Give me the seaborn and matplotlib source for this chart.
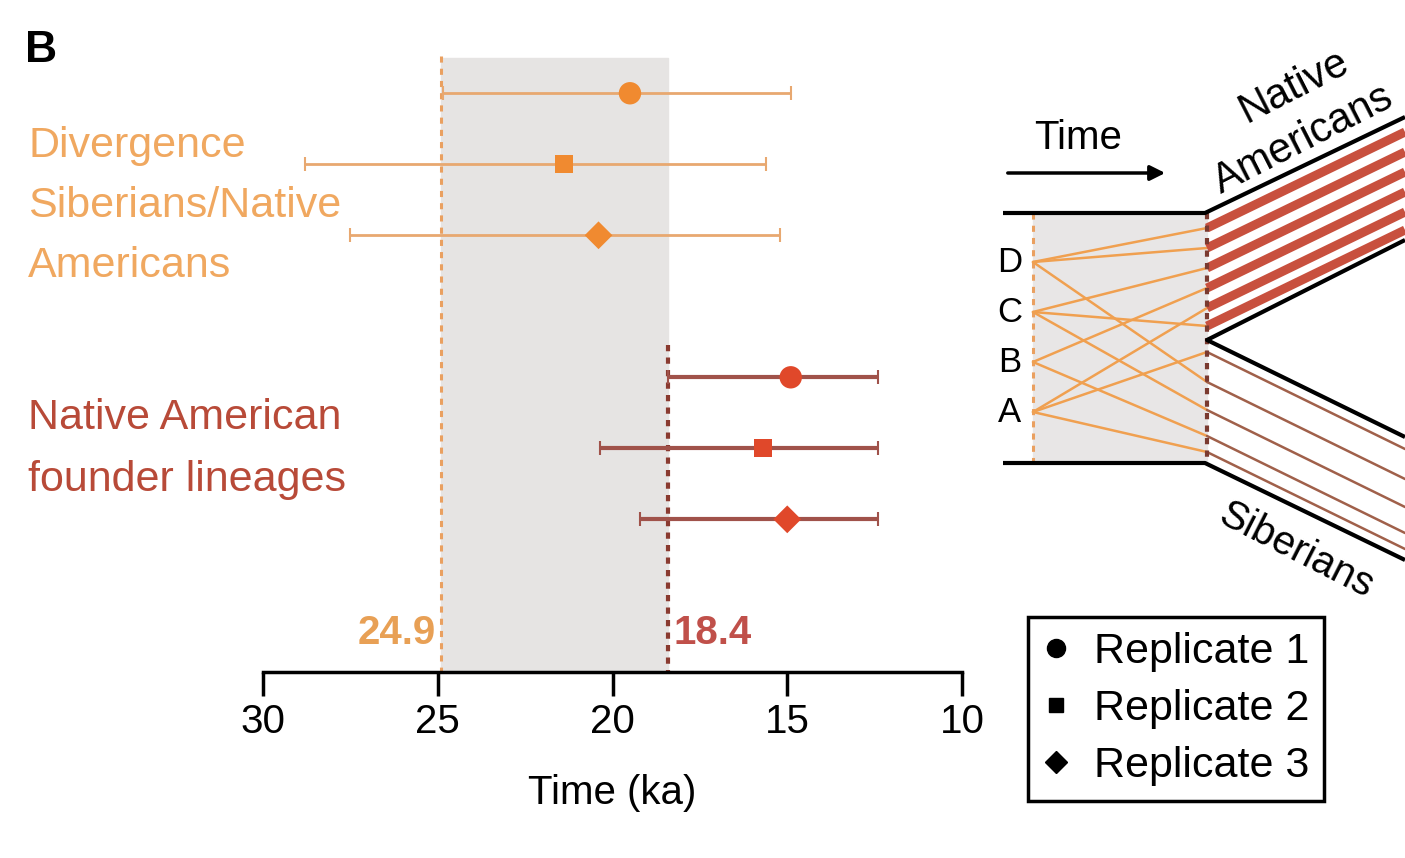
import numpy as np
import pandas as pd
import matplotlib
matplotlib.use("Agg")
import matplotlib.pyplot as plt
from matplotlib.lines import Line2D
import seaborn as sns

# Estimaciones (ka)
groups = ["Divergence"] * 3 + ["Founder"] * 3
replicates = ["Replicate 1", "Replicate 2", "Replicate 3"] * 2
estimate = [19.5, 21.4, 20.4, 14.9, 15.7, 15.0]
older = [24.85, 28.8, 27.5, 18.4, 20.35, 19.2]
younger = [14.9, 15.6, 15.2, 12.4, 12.4, 12.4]
row = [0, 1, 2, 4, 5, 6]

divergence_bound = 24.9
founder_bound = 18.4
xticks = [30, 25, 20, 15, 10]

# Esquema de la derecha (coordenadas del dibujo)
letters = ["D", "C", "B", "A"]
letter_y = [262, 312, 362, 412]
na_start = [228, 248, 268, 288, 308, 326]
sib_start = [352, 382, 410, 436, 452]
na_source = ["D", "D", "C", "B", "A", "C"]
sib_source = ["A", "D", "C", "B", "A"]

df = pd.DataFrame({"group": groups, "replicate": replicates, "estimate": estimate,
                   "older": older, "younger": younger, "row": row})

sns.set_style("white")
plt.rcParams['font.family'] = ['Liberation Sans', 'DejaVu Sans']
plt.rcParams['text.color'] = 'black'
plt.rcParams['axes.labelcolor'] = 'black'
plt.rcParams['xtick.color'] = 'black'

colors = {"Divergence": "#f08a30", "Founder": "#e0482a"}
bar_colors = {"Divergence": "#e8a870", "Founder": "#a0524a"}
bar_width = {"Divergence": 2.0, "Founder": 3.0}
markers = {"Replicate 1": "o", "Replicate 2": "s", "Replicate 3": "D"}
msize = {"Replicate 1": 260, "Replicate 2": 170, "Replicate 3": 200}

fig = plt.figure(figsize=(14.05, 8.58), dpi=100)
ax = fig.add_axes([263 / 1405, 1 - 672 / 858, 699 / 1405, 632 / 858])

ax.set_xlim(30, 10)
ax.set_ylim(8.15, -0.75)

# Zona sombreada entre los dos limites
ax.fill_betweenx([-0.49, 8.15], divergence_bound, founder_bound, color="#e6e4e3", zorder=0)
ax.plot([divergence_bound] * 2, [-0.53, 8.15], color="#eaa060", lw=2.2,
        ls=(0, (2, 2)), zorder=1)
ax.plot([founder_bound] * 2, [3.55, 8.15], color="#8a3a30", lw=3,
        ls=(0, (1.5, 1.5)), zorder=1)

# Barras de error
for _, r in df.iterrows():
    ax.hlines(r["row"], r["older"], r["younger"], color=bar_colors[r["group"]],
              lw=bar_width[r["group"]], zorder=2)
    ax.plot([r["older"], r["younger"]], [r["row"], r["row"]], ls="none", marker="|",
            ms=10, mew=1.5, color=bar_colors[r["group"]], zorder=2)

# Puntos
for rep in markers:
    sub = df[df["replicate"] == rep]
    sns.scatterplot(data=sub, x="estimate", y="row", hue="group", palette=colors,
                    marker=markers[rep], s=msize[rep], edgecolor="none",
                    legend=False, ax=ax, zorder=3)

ax.text(divergence_bound + 0.15, 7.6, "24.9", color="#e8a055", fontsize=29,
        fontweight="bold", ha="right", va="center")
ax.text(founder_bound - 0.15, 7.6, "18.4", color="#c0504a", fontsize=29,
        fontweight="bold", ha="left", va="center")

for s in ["top", "right", "left"]:
    ax.spines[s].set_visible(False)
ax.spines["bottom"].set_linewidth(2.5)
ax.spines["bottom"].set_color("black")
ax.set_xticks(xticks)
ax.set_xticklabels([str(t) for t in xticks])
ax.tick_params(axis="x", bottom=True, direction="out", length=17, width=2.5,
               labelsize=29, pad=5, color="black")
ax.set_yticks([])
ax.set_xlabel("Time (ka)", fontsize=29, labelpad=24)
ax.set_ylabel("")
ax.patch.set_alpha(0)

fig.text(25 / 1405, 1 - 50 / 858, "B", fontsize=32, fontweight="bold", va="center")
fig.text(28 / 1405, 1 - 206 / 858, "Divergence\nSiberians/Native\nAmericans",
         color="#f0a860", fontsize=31, va="center", linespacing=1.65)
fig.text(28 / 1405, 1 - 449 / 858, "Native American\nfounder lineages",
         color="#b84a38", fontsize=31, va="center", linespacing=1.68)

# Esquema
ax2 = fig.add_axes([990 / 1405, 1 - 610 / 858, 415 / 1405, 560 / 858])
ax2.set_xlim(990, 1405)
ax2.set_ylim(610, 50)
ax2.axis("off")

xl, xr, xe = 1033, 1207, 1405
ax2.fill_between([xl, xr], 213, 463, color="#e8e6e6", zorder=0)
ax2.plot([xl, xl], [213, 463], color="#eaa060", lw=2.2, ls=(0, (2, 2)), zorder=1)
ax2.plot([xr, xr], [213, 463], color="#7a3a30", lw=3, ls=(0, (1.5, 1.5)), zorder=3)

src = dict(zip(letters, letter_y))
for y, s in zip(na_start + sib_start, na_source + sib_source):
    ax2.plot([xl, xr], [src[s], y], color="#f0a050", lw=1.8, zorder=2)
for y in na_start:
    ax2.plot([xr, xe], [y, y - 96], color="#c8503e", lw=6.5, zorder=2, solid_capstyle="butt")
for y in sib_start:
    ax2.plot([xr, xe], [y, y + 97], color="#a0604a", lw=1.8, zorder=2)

k = dict(color="black", lw=3, solid_capstyle="butt", zorder=4)
ax2.plot([1003, 1205, xe], [213, 213, 117], **k)
ax2.plot([xe, 1207, xe], [240, 340, 437], **k)
ax2.plot([1003, 1205, xe], [463, 463, 560], **k)

for l, y in zip(letters, letter_y):
    ax2.text(1010, y, l, fontsize=25, ha="center", va="center")

ax2.annotate("", xy=(1168, 173), xytext=(1005, 173),
             arrowprops=dict(arrowstyle="-|>,head_length=0.9,head_width=0.45",
                             color="black", lw=2.5))
ax2.text(1078, 138, "Time", fontsize=29, ha="center", va="center")
ax2.text(1294, 86, "Native", fontsize=30, ha="center", va="center", rotation=27)
ax2.text(1303, 140, "Americans", fontsize=30, ha="center", va="center", rotation=27)
ax2.text(1296, 550, "Siberians", fontsize=29, ha="center", va="center", rotation=-27)

handles = [Line2D([], [], ls="none", marker=markers[r], color="black",
                  ms={"Replicate 1": 13, "Replicate 2": 10, "Replicate 3": 11}[r])
           for r in markers]
leg = fig.legend(handles, list(markers), loc="upper left",
                 bbox_to_anchor=(1028 / 1405, 1 - 617 / 858), fontsize=31,
                 frameon=True, fancybox=False, edgecolor="black", framealpha=1,
                 handlelength=0.6, handletextpad=0.6, labelspacing=0.4,
                 borderpad=0.34, borderaxespad=0)
leg.get_frame().set_linewidth(2.5)

fig.savefig("out.png", dpi=100, facecolor="white")
